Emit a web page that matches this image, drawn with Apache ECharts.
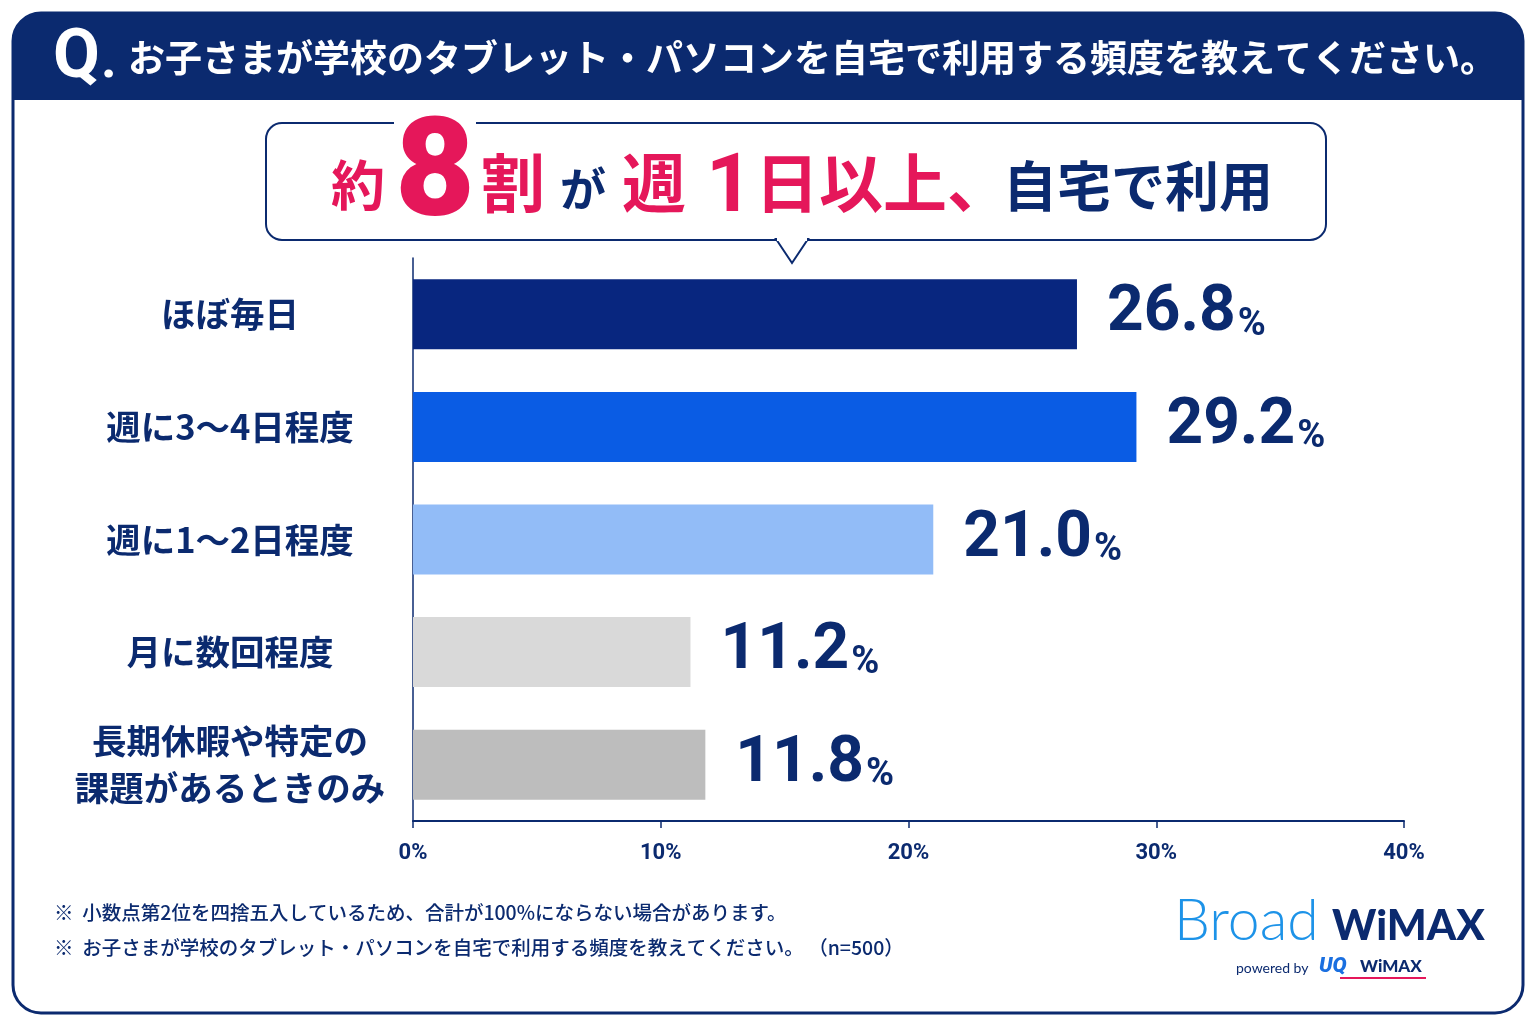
<!DOCTYPE html>
<html>
<head>
<meta charset="utf-8">
<script src="https://cdn.jsdelivr.net/npm/echarts@6/dist/echarts.min.js"></script>
<style>
html,body{margin:0;padding:0;background:#ffffff;}
#chart{width:1536px;height:1024px;}
</style>
</head>
<body>
<div id="chart"></div>
<script>
var categories = ['ほぼ毎日', '週に3〜4日程度', '週に1〜2日程度', '月に数回程度', '長期休暇や特定の\n課題があるときのみ'];
var values = [26.8, 29.2, 21.0, 11.2, 11.8];
var barColors = ['#08267f', '#0a5ce4', '#92bcf7', '#d9d9d9', '#bdbdbd'];
var xTicks = [0, 10, 20, 30, 40];

var NAVY = '#0b2a6f';
var RED = '#e5175a';
var JP = '"Noto Sans CJK JP", "Noto Sans", sans-serif';
var NUM = 'Roboto, "Noto Sans", sans-serif';

var chart = echarts.init(document.getElementById('chart'), null, {renderer: 'canvas'});

function t(text, x, y, size, color, extra) {
  var s = {text: text, x: x, y: y, fontSize: size, fill: color, fontFamily: JP, fontWeight: 'bold', align: 'left', verticalAlign: 'middle'};
  if (extra) for (var k in extra) s[k] = extra[k];
  return {type: 'text', z: 20, style: s};
}

var graphics = [
  // header band
  {type: 'rect', z: 5, shape: {x: 13, y: 13, width: 1510, height: 87, r: [28, 28, 0, 0]}, style: {fill: NAVY}},
  // outer frame
  {type: 'rect', z: 30, shape: {x: 13, y: 13, width: 1510, height: 1000, r: 28}, style: {fill: 'none', stroke: NAVY, lineWidth: 3}},
  t('Q', 53, 60, 68, '#ffffff', {fontFamily: NUM, fontWeight: 'bold'}),
  t('.', 101, 63, 54, '#ffffff', {fontFamily: NUM, fontWeight: 'bold'}),
  t('お子さまが学校のタブレット・パソコンを自宅で利用する頻度を教えてください。', 128, 58, 37, '#ffffff'),
  // callout box
  {type: 'rect', z: 10, shape: {x: 266, y: 123, width: 1060, height: 117, r: 16}, style: {fill: '#ffffff', stroke: NAVY, lineWidth: 2}},
  {type: 'polygon', z: 11, shape: {points: [[776, 239], [792, 263], [808, 239]]}, style: {fill: '#ffffff', stroke: NAVY, lineWidth: 2}},
  {type: 'rect', z: 12, shape: {x: 777, y: 237, width: 30, height: 4}, style: {fill: '#ffffff'}},
  {type: 'rect', z: 12, shape: {x: 394, y: 118, width: 82, height: 10}, style: {fill: '#ffffff'}},
  t('約', 331, 185, 54, RED),
  t('8', 395, 180, 138, RED, {fontFamily: NUM, fontWeight: 900}),
  t('割', 481, 183, 64, RED),
  t('が', 560, 189, 46, NAVY),
  t('週', 622, 183, 64, RED),
  t('1', 706, 190, 82, RED, {fontFamily: NUM, fontWeight: 'bold'}),
  t('日以上、', 755, 183, 64, RED),
  t('自宅で利用', 1003, 186, 54, NAVY),
  // footnotes
  t('※  小数点第2位を四捨五入しているため、合計が100%にならない場合があります。', 54, 913, 19.5, NAVY, {fontWeight: 500}),
  t('※  お子さまが学校のタブレット・パソコンを自宅で利用する頻度を教えてください。 （n=500）', 54, 948, 19.5, NAVY, {fontWeight: 500}),
  // logo
  t('Broad', 1174, 922, 57, '#1d93e8', {fontFamily: 'Lato, "Open Sans", sans-serif', fontWeight: 300}),
  t('WiMAX', 1332, 926, 42, NAVY, {fontFamily: 'Lato, "Open Sans", sans-serif', fontWeight: 900}),
  t('powered by', 1236, 968, 14, NAVY, {fontFamily: 'Lato, sans-serif', fontWeight: 'normal'}),
  t('UQ', 1319, 967, 21, '#1a6fe0', {fontFamily: NUM, fontWeight: 900, fontStyle: 'italic'}),
  t('WiMAX', 1360, 967, 17, NAVY, {fontFamily: 'Lato, sans-serif', fontWeight: 900}),
  {type: 'rect', z: 20, shape: {x: 1340, y: 977, width: 86, height: 2}, style: {fill: '#e5175a'}}
];

var option = {
  backgroundColor: '#ffffff',
  animation: false,
  graphic: graphics,
  grid: {left: 413, right: 132, top: 258, bottom: 203, containLabel: false},
  xAxis: {
    type: 'value', min: 0, max: 40, interval: 10,
    splitLine: {show: false},
    axisLine: {show: true, lineStyle: {color: NAVY, width: 2}},
    axisTick: {show: true, length: 7, lineStyle: {color: NAVY, width: 1.5}},
    axisLabel: {
      margin: 21, color: NAVY, fontSize: 22, fontWeight: 'bold', fontFamily: NUM,
      formatter: function (v) { return xTicks.indexOf(v) >= 0 ? v + '%' : ''; }
    }
  },
  yAxis: {
    type: 'category', data: categories, inverse: true,
    axisLine: {show: true, lineStyle: {color: NAVY, width: 1.5}},
    axisTick: {show: false},
    axisLabel: {
      margin: 183, align: 'center', color: NAVY, fontSize: 34.5, fontWeight: 'bold',
      fontFamily: JP, lineHeight: 47
    }
  },
  series: [{
    type: 'bar',
    data: values.map(function (v, i) { return {value: v, itemStyle: {color: barColors[i]}}; }),
    barWidth: 70,
    label: {
      show: true, position: 'right', distance: 30,
      formatter: function (p) { return '{n|' + p.value.toFixed(1) + '}{p|%}'; },
      rich: {
        n: {fontSize: 64, fontWeight: 'bold', color: NAVY, fontFamily: NUM, lineHeight: 64, verticalAlign: 'bottom'},
        p: {fontSize: 38, fontWeight: 'bold', color: NAVY, fontFamily: NUM, lineHeight: 38, verticalAlign: 'bottom', padding: [0, 0, 2, 2]}
      }
    }
  }]
};
chart.setOption(option);
</script>
</body>
</html>
